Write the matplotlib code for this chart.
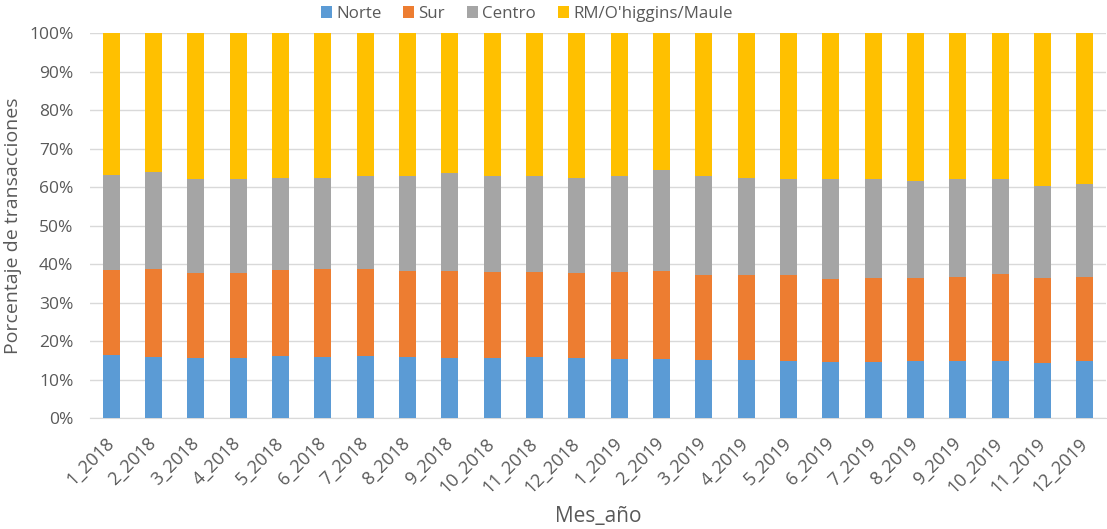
import numpy as np
import matplotlib.pyplot as plt
from matplotlib.ticker import PercentFormatter

plt.rcParams['font.family'] = ['Open Sans', 'DejaVu Sans']

meses = ['1_2018', '2_2018', '3_2018', '4_2018', '5_2018', '6_2018',
         '7_2018', '8_2018', '9_2018', '10_2018', '11_2018', '12_2018',
         '1_2019', '2_2019', '3_2019', '4_2019', '5_2019', '6_2019',
         '7_2019', '8_2019', '9_2019', '10_2019', '11_2019', '12_2019']

# cumulative share (%) at the top of each zone
norte_top = [16.4, 15.9, 15.6, 15.6, 16.2, 15.9, 16.2, 15.9, 15.6, 15.6, 15.9, 15.6,
             15.4, 15.4, 15.2, 15.2, 14.9, 14.6, 14.6, 14.9, 14.9, 14.9, 14.3, 14.9]
sur_top = [38.6, 38.9, 37.8, 37.8, 38.6, 38.9, 38.9, 38.3, 38.3, 38.1, 38.1, 37.8,
           38.1, 38.3, 37.3, 37.3, 37.1, 36.2, 36.5, 36.5, 36.8, 37.6, 36.5, 36.8]
centro_top = [63.1, 63.9, 62.0, 62.0, 62.5, 62.5, 62.8, 62.8, 63.6, 62.8, 62.8, 62.5,
              63.0, 64.5, 62.8, 62.5, 62.2, 62.0, 62.0, 61.7, 62.2, 62.0, 60.4, 60.9]

norte = np.array(norte_top)
sur = np.array(sur_top) - np.array(norte_top)
centro = np.array(centro_top) - np.array(sur_top)
rm = 100 - np.array(centro_top)

series = [('Norte', norte, '#5B9BD5'),
          ('Sur', sur, '#ED7D31'),
          ('Centro', centro, '#A5A5A5'),
          ("RM/O'higgins/Maule", rm, '#FFC000')]

fig = plt.figure(figsize=(11.07, 5.29), dpi=100)
ax = fig.add_axes([0.0813, 0.2089, 0.9177, 0.7287])

x = np.arange(len(meses))
bottom = np.zeros(len(meses))
for nombre, vals, color in series:
    ax.bar(x, vals, 0.4, bottom=bottom, color=color, label=nombre, zorder=3)
    bottom += vals

ax.set_ylim(0, 100)
ax.set_xlim(-0.5, len(meses) - 0.5)
ax.set_yticks(np.arange(0, 101, 10))
ax.yaxis.set_major_formatter(PercentFormatter(decimals=0))
ax.grid(axis='y', color='#D9D9D9', linewidth=1, zorder=0)
for s in ['top', 'right', 'left']:
    ax.spines[s].set_visible(False)
ax.spines['bottom'].set_color('#D9D9D9')
ax.tick_params(axis='both', length=0, colors='#595959')
ax.tick_params(axis='y', pad=12, labelsize=12.5)
ax.tick_params(axis='x', pad=16, labelsize=13)
ax.set_xticks(x)
ax.set_xticklabels(meses, rotation=45, ha='right', va='center', rotation_mode='anchor')

ax.set_ylabel('Porcentaje de transacciones', fontsize=14, color='#595959')
ax.yaxis.set_label_coords(-0.067, 0.5)
ax.set_xlabel('Mes_año', fontsize=15, color='#595959')
ax.xaxis.set_label_coords(0.5, -0.228)

ax.legend(loc='upper center', bbox_to_anchor=(0.43, 1.11), ncol=4, frameon=False,
          fontsize=12.2, handlelength=0.65, handleheight=0.65, handletextpad=0.25,
          columnspacing=1.3, labelcolor='#595959')

fig.savefig('out.png', dpi=100)
